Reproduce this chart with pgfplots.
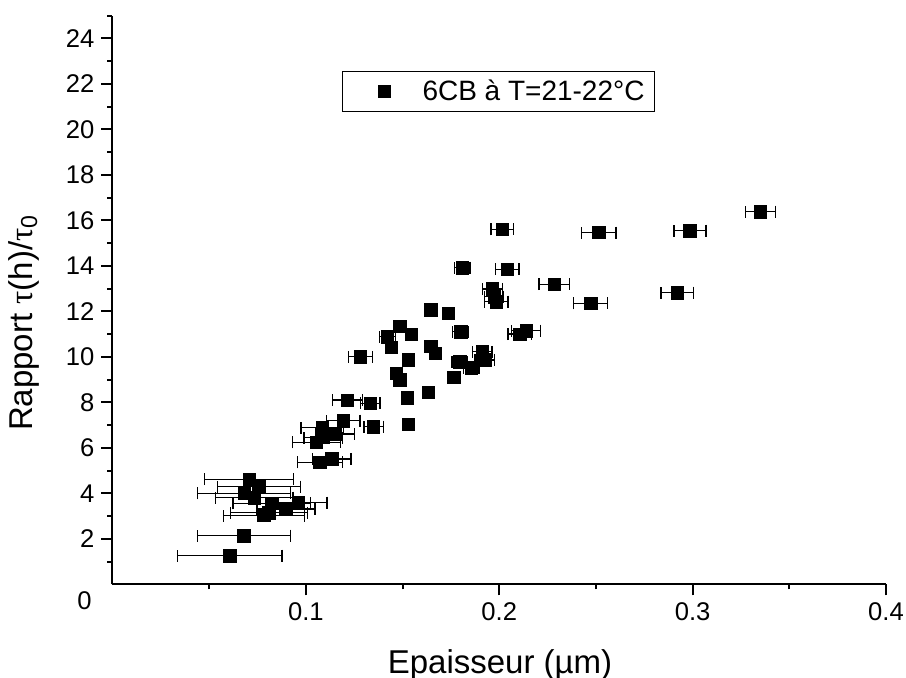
\documentclass[border=0pt]{standalone}
\usepackage{fontspec}
\setmainfont{Liberation Sans}
\newfontfamily\symf{Liberation Serif}
\usepackage{pgfplots}
\pgfplotsset{compat=1.18}
\usepackage{pgfplotstable}

\pgfplotstableread{
x y ex
0.335 16.38 0.0078
0.2986 15.54 0.0083
0.2514 15.46 0.0090
0.2920 12.82 0.0083
0.2473 12.35 0.0088
0.2285 13.19 0.0080
0.2015 15.60 0.0057
0.1808 13.92 0.0041
0.2042 13.85 0.0060
0.1965 12.98 0.0052
0.1973 12.64 0.0050
0.1985 12.42 0.0060
0.1646 12.06 0.0030
0.1735 11.91 0.0030
0.1801 11.10 0.0041
0.2106 11.00 0.0060
0.2140 11.15 0.0075
0.1486 11.34 0.0030
0.1422 10.88 0.0040
0.1546 11.00 0.0030
0.1443 10.42 0.0030
0.1646 10.47 0.0030
0.1670 10.15 0.0030
0.1283 10.00 0.0063
0.1529 9.86 0.0030
0.1796 9.78 0.0040
0.1913 10.22 0.0050
0.1925 9.86 0.0050
0.1856 9.52 0.0040
0.1765 9.10 0.0030
0.1469 9.27 0.0030
0.1486 8.98 0.0030
0.1632 8.44 0.0030
0.1525 8.20 0.0030
0.1214 8.10 0.0078
0.1334 7.96 0.0050
0.1193 7.19 0.0087
0.1350 6.93 0.0050
0.1529 7.03 0.0030
0.1085 6.88 0.0110
0.1152 6.60 0.0100
0.1090 6.45 0.0100
0.1055 6.24 0.0125
0.1072 5.36 0.0117
0.1134 5.51 0.0100
0.0707 4.62 0.0230
0.0757 4.29 0.0215
0.0681 4.00 0.0240
0.0733 3.81 0.0200
0.0823 3.56 0.0200
0.0809 3.15 0.0200
0.0783 3.02 0.0210
0.0897 3.31 0.0150
0.0960 3.59 0.0150
0.0680 2.14 0.0240
0.0607 1.26 0.0270
}\datatable

\begin{document}
\begin{tikzpicture}
\useasboundingbox (-56.25pt,-46.35pt) rectangle (396.75pt,292.15pt);
\begin{axis}[
  at={(0pt,0pt)}, anchor=south west,
  scale only axis,
  width=386.75pt, height=284.4pt,
  xmin=0, xmax=0.4, ymin=0, ymax=25,
  axis x line*=bottom, axis y line*=left,
  axis line style={-, line width=1pt},
  every outer x axis line/.append style={-},
  every outer y axis line/.append style={-},
  tick align=outside,
  major tick length=5.5pt, minor tick length=2.5pt,
  every tick/.style={black, line width=1pt},
  xtick={0.1,0.2,0.3,0.4},
  minor xtick={0.05,0.15,0.25,0.35},
  extra x ticks={0},
  extra x tick style={major tick length=0pt, xticklabel style={xshift=-14pt}},
  extra x tick labels={0},
  ytick={2,4,...,24},
  minor ytick={1,3,...,25},
  xticklabel style={/pgf/number format/fixed, /pgf/number format/assume math mode=true},
  yticklabel style={/pgf/number format/assume math mode=true},
  tick label style={font=\fontsize{12.8pt}{14pt}\selectfont},
  scaled x ticks=false,
  xlabel={Epaisseur (µm)},
  ylabel={Rapport {\symf τ}(h)/{\symf τ}\textsubscript{0}},
  label style={font=\fontsize{16.5pt}{18pt}\selectfont},
  xlabel style={at={(axis description cs:0.501,-0.156)}, anchor=base},
  ylabel style={at={(axis description cs:-0.104,0.46)}, anchor=base},
  clip=false,
  legend style={at={(rel axis cs:0.2967,0.9024)}, anchor=north west,
    draw=black, line width=0.5pt, inner xsep=3pt, inner ysep=2pt,
    font=\fontsize{14pt}{16pt}\selectfont},
  legend image code/.code={
    \path[draw=none] (0pt,0pt) -- (35pt,0pt);
    \path[draw=none] plot[mark=square*, mark size=3.1pt, mark options={fill=black, draw=black, line width=0.3pt}] coordinates {(18pt,0pt)};
  },
]
\addplot[only marks, mark=square*, mark size=3.1pt,
  mark options={fill=black, draw=black, line width=0.3pt},
  error bars/.cd, x dir=both, x explicit,
  error bar style={line width=0.65pt, black},
  error mark options={rotate=90, mark size=3pt, line width=0.65pt, black}]
  table[x=x, y=y, x error=ex] {\datatable};
\addlegendentry{6CB à T=21-22°C}
\end{axis}
\end{tikzpicture}
\end{document}
